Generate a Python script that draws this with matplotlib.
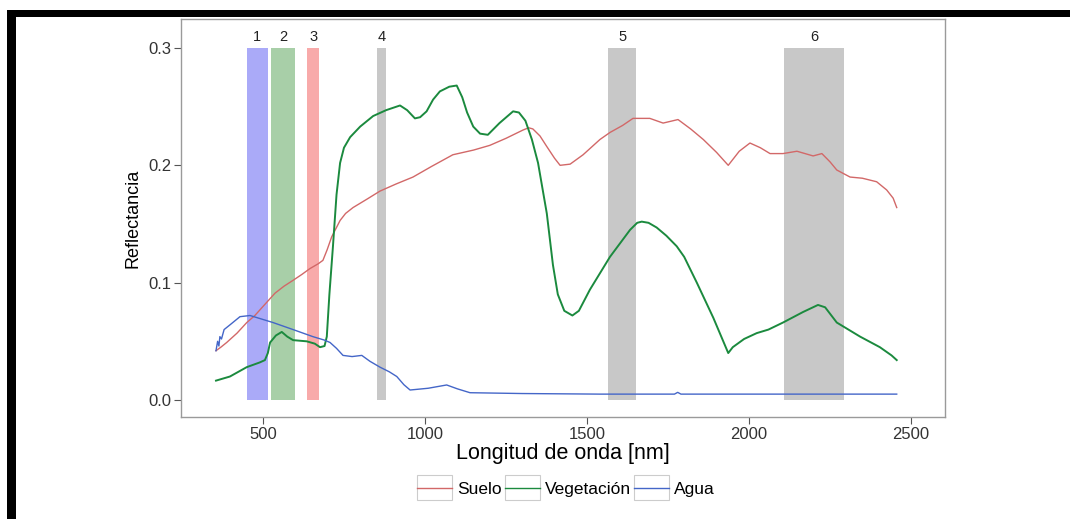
import matplotlib
matplotlib.use("Agg")
import matplotlib.pyplot as plt
from matplotlib.legend_handler import HandlerLine2D
from matplotlib.patches import Rectangle

plt.rcParams['font.family'] = ['Liberation Sans', 'DejaVu Sans']

# spectral curves (wavelength in nm, reflectance)
suelo_nm = [355, 370, 388, 420, 450, 475, 501, 537, 565, 593, 620, 645, 670, 685, 698,
            712, 738, 755, 778, 820, 861, 910, 963, 1020, 1086, 1150, 1200, 1250, 1302,
            1320, 1333, 1355, 1376, 1400, 1417, 1448, 1488, 1540, 1571, 1610, 1642, 1694,
            1735, 1781, 1820, 1859, 1900, 1936, 1970, 2003, 2035, 2065, 2105, 2148, 2198,
            2225, 2250, 2271, 2312, 2350, 2394, 2425, 2445, 2456]
suelo_r = [0.042, 0.045, 0.049, 0.057, 0.066, 0.072, 0.080, 0.091, 0.097, 0.102, 0.107,
           0.112, 0.116, 0.119, 0.128, 0.139, 0.153, 0.159, 0.164, 0.171, 0.178, 0.184,
           0.190, 0.199, 0.209, 0.213, 0.217, 0.223, 0.230, 0.232, 0.231, 0.225, 0.216,
           0.206, 0.200, 0.201, 0.209, 0.222, 0.228, 0.234, 0.240, 0.240, 0.236, 0.239,
           0.231, 0.222, 0.211, 0.200, 0.212, 0.219, 0.215, 0.210, 0.210, 0.212, 0.208,
           0.210, 0.203, 0.196, 0.190, 0.189, 0.186, 0.179, 0.172, 0.164]

veg_nm = [355, 398, 450, 490, 506, 515, 522, 540, 558, 575, 593, 635, 660, 676, 690, 697,
          705, 716, 727, 738, 750, 769, 800, 840, 880, 923, 945, 969, 985, 1005, 1025,
          1046, 1075, 1098, 1115, 1130, 1149, 1170, 1194, 1230, 1272, 1290, 1310, 1330,
          1349, 1376, 1395, 1410, 1430, 1455, 1475, 1509, 1571, 1633, 1655, 1669, 1690,
          1715, 1745, 1777, 1800, 1839, 1890, 1936, 1950, 1985, 2024, 2060, 2105, 2167,
          2213, 2235, 2271, 2343, 2404, 2440, 2456]
veg_r = [0.0165, 0.020, 0.028, 0.032, 0.034, 0.040, 0.049, 0.055, 0.058, 0.054, 0.051,
         0.050, 0.048, 0.045, 0.046, 0.054, 0.090, 0.131, 0.175, 0.202, 0.215, 0.224,
         0.233, 0.242, 0.247, 0.251, 0.247, 0.240, 0.241, 0.246, 0.256, 0.263, 0.267,
         0.268, 0.258, 0.245, 0.233, 0.227, 0.226, 0.236, 0.246, 0.245, 0.238, 0.222,
         0.202, 0.159, 0.115, 0.090, 0.076, 0.072, 0.076, 0.094, 0.122, 0.145, 0.151,
         0.152, 0.151, 0.147, 0.140, 0.131, 0.122, 0.100, 0.070, 0.040, 0.045, 0.052,
         0.057, 0.060, 0.066, 0.075, 0.081, 0.079, 0.066, 0.054, 0.045, 0.038, 0.034]

agua_nm = [355, 360, 364, 367, 372, 380, 398, 429, 460, 531, 593, 654, 690, 707, 727,
           747, 775, 805, 830, 861, 890, 913, 935, 954, 1010, 1067, 1100, 1139, 1300,
           1540, 1770, 1780, 1790, 2000, 2456]
agua_r = [0.042, 0.050, 0.046, 0.054, 0.052, 0.060, 0.064, 0.071, 0.072, 0.066, 0.060,
          0.054, 0.051, 0.049, 0.044, 0.038, 0.037, 0.038, 0.033, 0.028, 0.024, 0.020,
          0.013, 0.0085, 0.010, 0.0128, 0.0095, 0.0062, 0.0055, 0.005, 0.005, 0.0065,
          0.005, 0.005, 0.005]

# Landsat 8 OLI bands
band_labels = ['1', '2', '3', '4', '5', '6']
band_lo = [450, 525, 636, 851, 1566, 2107]
band_hi = [515, 600, 673, 879, 1651, 2294]
band_colors = ['#aaaaf8', '#a8cfa8', '#f8aaaa', '#c8c8c8', '#c8c8c8', '#c8c8c8']

W, H = 1070, 519
fig = plt.figure(figsize=(W / 100, H / 100), dpi=100)
ax = fig.add_axes([181 / W, 1 - 417 / H, (945 - 181) / W, (417 - 19) / H])

for lab, lo, hi, c in zip(band_labels, band_lo, band_hi, band_colors):
    ax.fill_between([lo, hi], 0, 0.3, color=c, lw=0, zorder=1)
    ax.text((lo + hi) / 2, 0.3095, lab, ha='center', va='center', fontsize=10.5,
            color='#222222')

ax.plot(suelo_nm, suelo_r, color='#d26868', lw=1.0, label='Suelo', zorder=3)
ax.plot(veg_nm, veg_r, color='#1b8a3e', lw=1.4, label='Vegetación', zorder=3)
ax.plot(agua_nm, agua_r, color='#4466c8', lw=1.0, label='Agua', zorder=3)

ax.set_xlim(247, 2605)
ax.set_ylim(-0.0145, 0.3247)
ax.set_xticks([500, 1000, 1500, 2000, 2500])
ax.set_yticks([0.0, 0.1, 0.2, 0.3])
ax.set_yticklabels(['0.0', '0.1', '0.2', '0.3'])
for s in ax.spines.values():
    s.set_color('#9a9a9a')
    s.set_linewidth(1.0)
ax.tick_params(direction='out', length=5, width=0.8, color='#555555',
               labelsize=12, labelcolor='#333333', pad=2)
ax.set_xlabel('Longitud de onda [nm]', fontsize=15.5, labelpad=1)
ax.set_ylabel('Reflectancia', fontsize=13, labelpad=5)


class BoxedLine(HandlerLine2D):
    def create_artists(self, legend, orig, xdescent, ydescent, width, height,
                       fontsize, trans):
        arts = super().create_artists(legend, orig, xdescent, ydescent, width,
                                      height, fontsize, trans)
        for a in arts:
            a.set_linewidth(1.0)
        box = Rectangle((-xdescent, -ydescent - height * 0.5), width, height * 2.0,
                        facecolor='white', edgecolor='#cccccc', lw=0.8,
                        transform=trans, zorder=0)
        return [box] + arts


handles, labels = ax.get_legend_handles_labels()
fig.legend(handles, labels, loc='center', bbox_to_anchor=(566 / W, 1 - 489 / H),
           ncol=3, frameon=False, fontsize=12.5, handlelength=2.0, handletextpad=0.3,
           columnspacing=0.2, handler_map={plt.Line2D: BoxedLine()})

# black frame around the picture
fig.patches.append(Rectangle((7 / W, 0), 9 / W, 1 - 10 / H, transform=fig.transFigure,
                             facecolor='black', edgecolor='none'))
fig.patches.append(Rectangle((7 / W, 1 - 17 / H), 1, 7 / H, transform=fig.transFigure,
                             facecolor='black', edgecolor='none'))

fig.savefig('out.png', dpi=100)
